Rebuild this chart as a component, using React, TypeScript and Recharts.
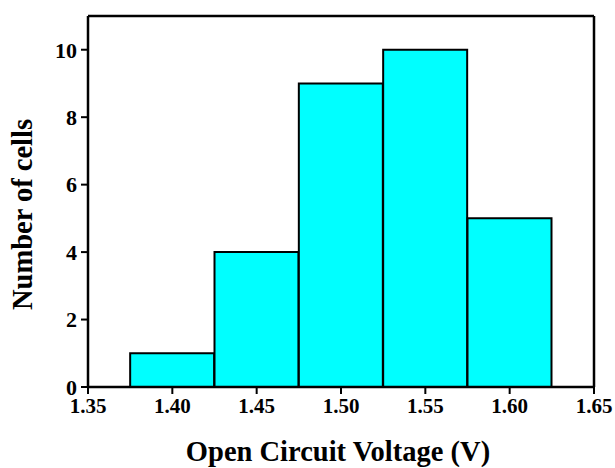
import { Bar, BarChart, XAxis, YAxis, Label } from 'recharts';

// histogram of open-circuit voltage across the cell batch
const binCenters = [1.4, 1.45, 1.5, 1.55, 1.6];
const cellCounts = [1, 4, 9, 10, 5];
const xMajorTicks = [1.35, 1.4, 1.45, 1.5, 1.55, 1.6, 1.65];
const xMinorTicks = [1.375, 1.425, 1.475, 1.525, 1.575, 1.625];
const yMajorTicks = [0, 2, 4, 6, 8, 10];
const yMinorTicks = [1, 3, 5, 7, 9];

const data = binCenters.map((v, i) => ({ voc: v, count: cellCounts[i] }));

const FONT = 'Liberation Serif, serif';
const tickStyle = { fontFamily: FONT, fontWeight: 700, fontSize: 21, fill: '#000' };
const axisLine = { stroke: '#000', strokeWidth: 2.5 };
const tickLine = { stroke: '#000', strokeWidth: 2 };

export default function App() {
  return (
    <div
      style={{
        position: 'absolute',
        left: 0,
        top: 0,
        background: '#fff',
        fontFamily: FONT,
        fontWeight: 700,
      }}
    >
      <BarChart
        width={615}
        height={468}
        data={data}
        margin={{ top: 0, right: 0, bottom: 0, left: 0 }}
        barCategoryGap={0}
        barGap={0}
        style={{ fontFamily: FONT }}
      >
        <XAxis
          xAxisId="main"
          dataKey="voc"
          type="number"
          domain={[1.35, 1.65]}
          ticks={xMajorTicks}
          tickFormatter={(v: number) => v.toFixed(2)}
          interval={0}
          height={81}
          tickSize={7}
          tickMargin={4}
          tick={{ ...tickStyle, style: { fontFamily: FONT, fontWeight: 700 } }}
          axisLine={axisLine}
          tickLine={tickLine}
          allowDataOverflow
        >
          <Label
            value="Open Circuit Voltage (V)"
            position="insideBottom"
            offset={7}
            dx={-3}
            style={{ fontFamily: FONT, fontWeight: 700, fontSize: 28.5, fill: '#000' }}
          />
        </XAxis>
        <XAxis
          xAxisId="minor"
          dataKey="voc"
          type="number"
          domain={[1.35, 1.65]}
          ticks={xMinorTicks}
          interval={0}
          height={0}
          tickSize={4}
          tick={false}
          axisLine={false}
          tickLine={tickLine}
          allowDataOverflow
        />
        <XAxis
          xAxisId="top"
          orientation="top"
          dataKey="voc"
          type="number"
          domain={[1.35, 1.65]}
          ticks={[...xMajorTicks, ...xMinorTicks]}
          interval={0}
          height={16}
          tickSize={2}
          tick={false}
          axisLine={axisLine}
          tickLine={tickLine}
          allowDataOverflow
        />
        <YAxis
          yAxisId="main"
          type="number"
          domain={[0, 11]}
          ticks={yMajorTicks}
          interval={0}
          width={88}
          tickSize={7}
          tickMargin={4}
          tick={{ ...tickStyle, fontSize: 22, style: { fontFamily: FONT, fontWeight: 700 } }}
          axisLine={axisLine}
          tickLine={tickLine}
          allowDataOverflow
        >
          <Label
            value="Number of cells"
            angle={-90}
            position="insideLeft"
            offset={22}
            dy={13}
            style={{ fontFamily: FONT, fontWeight: 700, fontSize: 28.5, fill: '#000', textAnchor: 'middle' }}
          />
        </YAxis>
        <YAxis
          yAxisId="minor"
          type="number"
          domain={[0, 11]}
          ticks={yMinorTicks}
          interval={0}
          width={0}
          tickSize={4}
          tick={false}
          axisLine={false}
          tickLine={tickLine}
          allowDataOverflow
        />
        <YAxis
          yAxisId="right"
          orientation="right"
          type="number"
          domain={[0, 11]}
          ticks={[...yMajorTicks, ...yMinorTicks]}
          interval={0}
          width={21}
          tickSize={2}
          tick={false}
          axisLine={axisLine}
          tickLine={tickLine}
          allowDataOverflow
        />
        <Bar
          xAxisId="main"
          yAxisId="main"
          dataKey="count"
          fill="#00FFFF"
          stroke="#000"
          strokeWidth={2}
          isAnimationActive={false}
        />
      </BarChart>
    </div>
  );
}
